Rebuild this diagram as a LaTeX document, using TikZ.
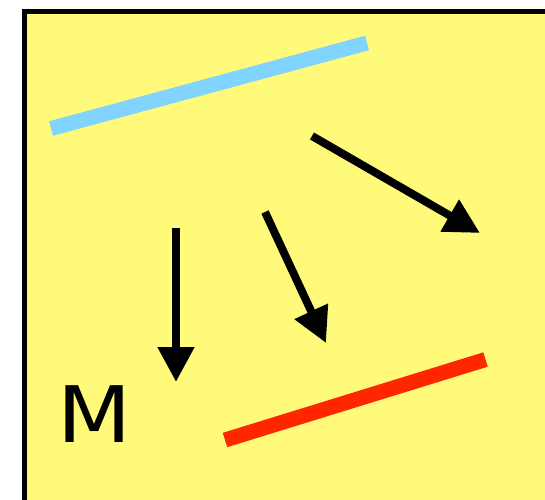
\documentclass[tikz,border=0pt]{standalone}
\usepackage{fontspec}
\newfontfamily\labelfont{DejaVu Sans}
\usetikzlibrary{arrows.meta}
\definecolor{padyellow}{RGB}{255,250,122}
\definecolor{skyblue}{RGB}{128,212,255}
\definecolor{hotred}{RGB}{255,38,0}
\begin{document}
\begin{tikzpicture}[x=1pt, y=-1pt,
    bar/.style={line width=15pt, line cap=butt},
    move/.style={line width=8pt, -{Triangle[length=35pt, width=35pt]}}]
    \useasboundingbox (0, 0) rectangle (545, 499);
    \clip (0, 0) rectangle (545, 499);
    \draw[line width=5pt, fill=padyellow] (24.5, 11.5) rectangle (560, 515);

    % Balken
    \coordinate (b1) at (51, 128.5);
    \coordinate (b2) at (367, 43);
    \draw[bar, skyblue] (b1) -- (b2);

    \coordinate (r1) at (225, 440);
    \coordinate (r2) at (485.5, 359.5);
    \draw[bar, hotred] (r1) -- (r2);

    % Pfeile
    \coordinate (p1) at (312, 136);
    \coordinate (q1) at (480, 233);
    \draw[move] (p1) -- (q1);

    \coordinate (p2) at (265, 212);
    \coordinate (q2) at (326, 343);
    \draw[move] (p2) -- (q2);

    \coordinate (p3) at (176, 228);
    \coordinate (q3) at (176, 382);
    \draw[move] (p3) -- (q3);

    \node[inner sep=0pt, anchor=base, xscale=1.1] (m) at (94.5, 442) {\labelfont\fontsize{78}{78}\selectfont M};
\end{tikzpicture}
\end{document}
